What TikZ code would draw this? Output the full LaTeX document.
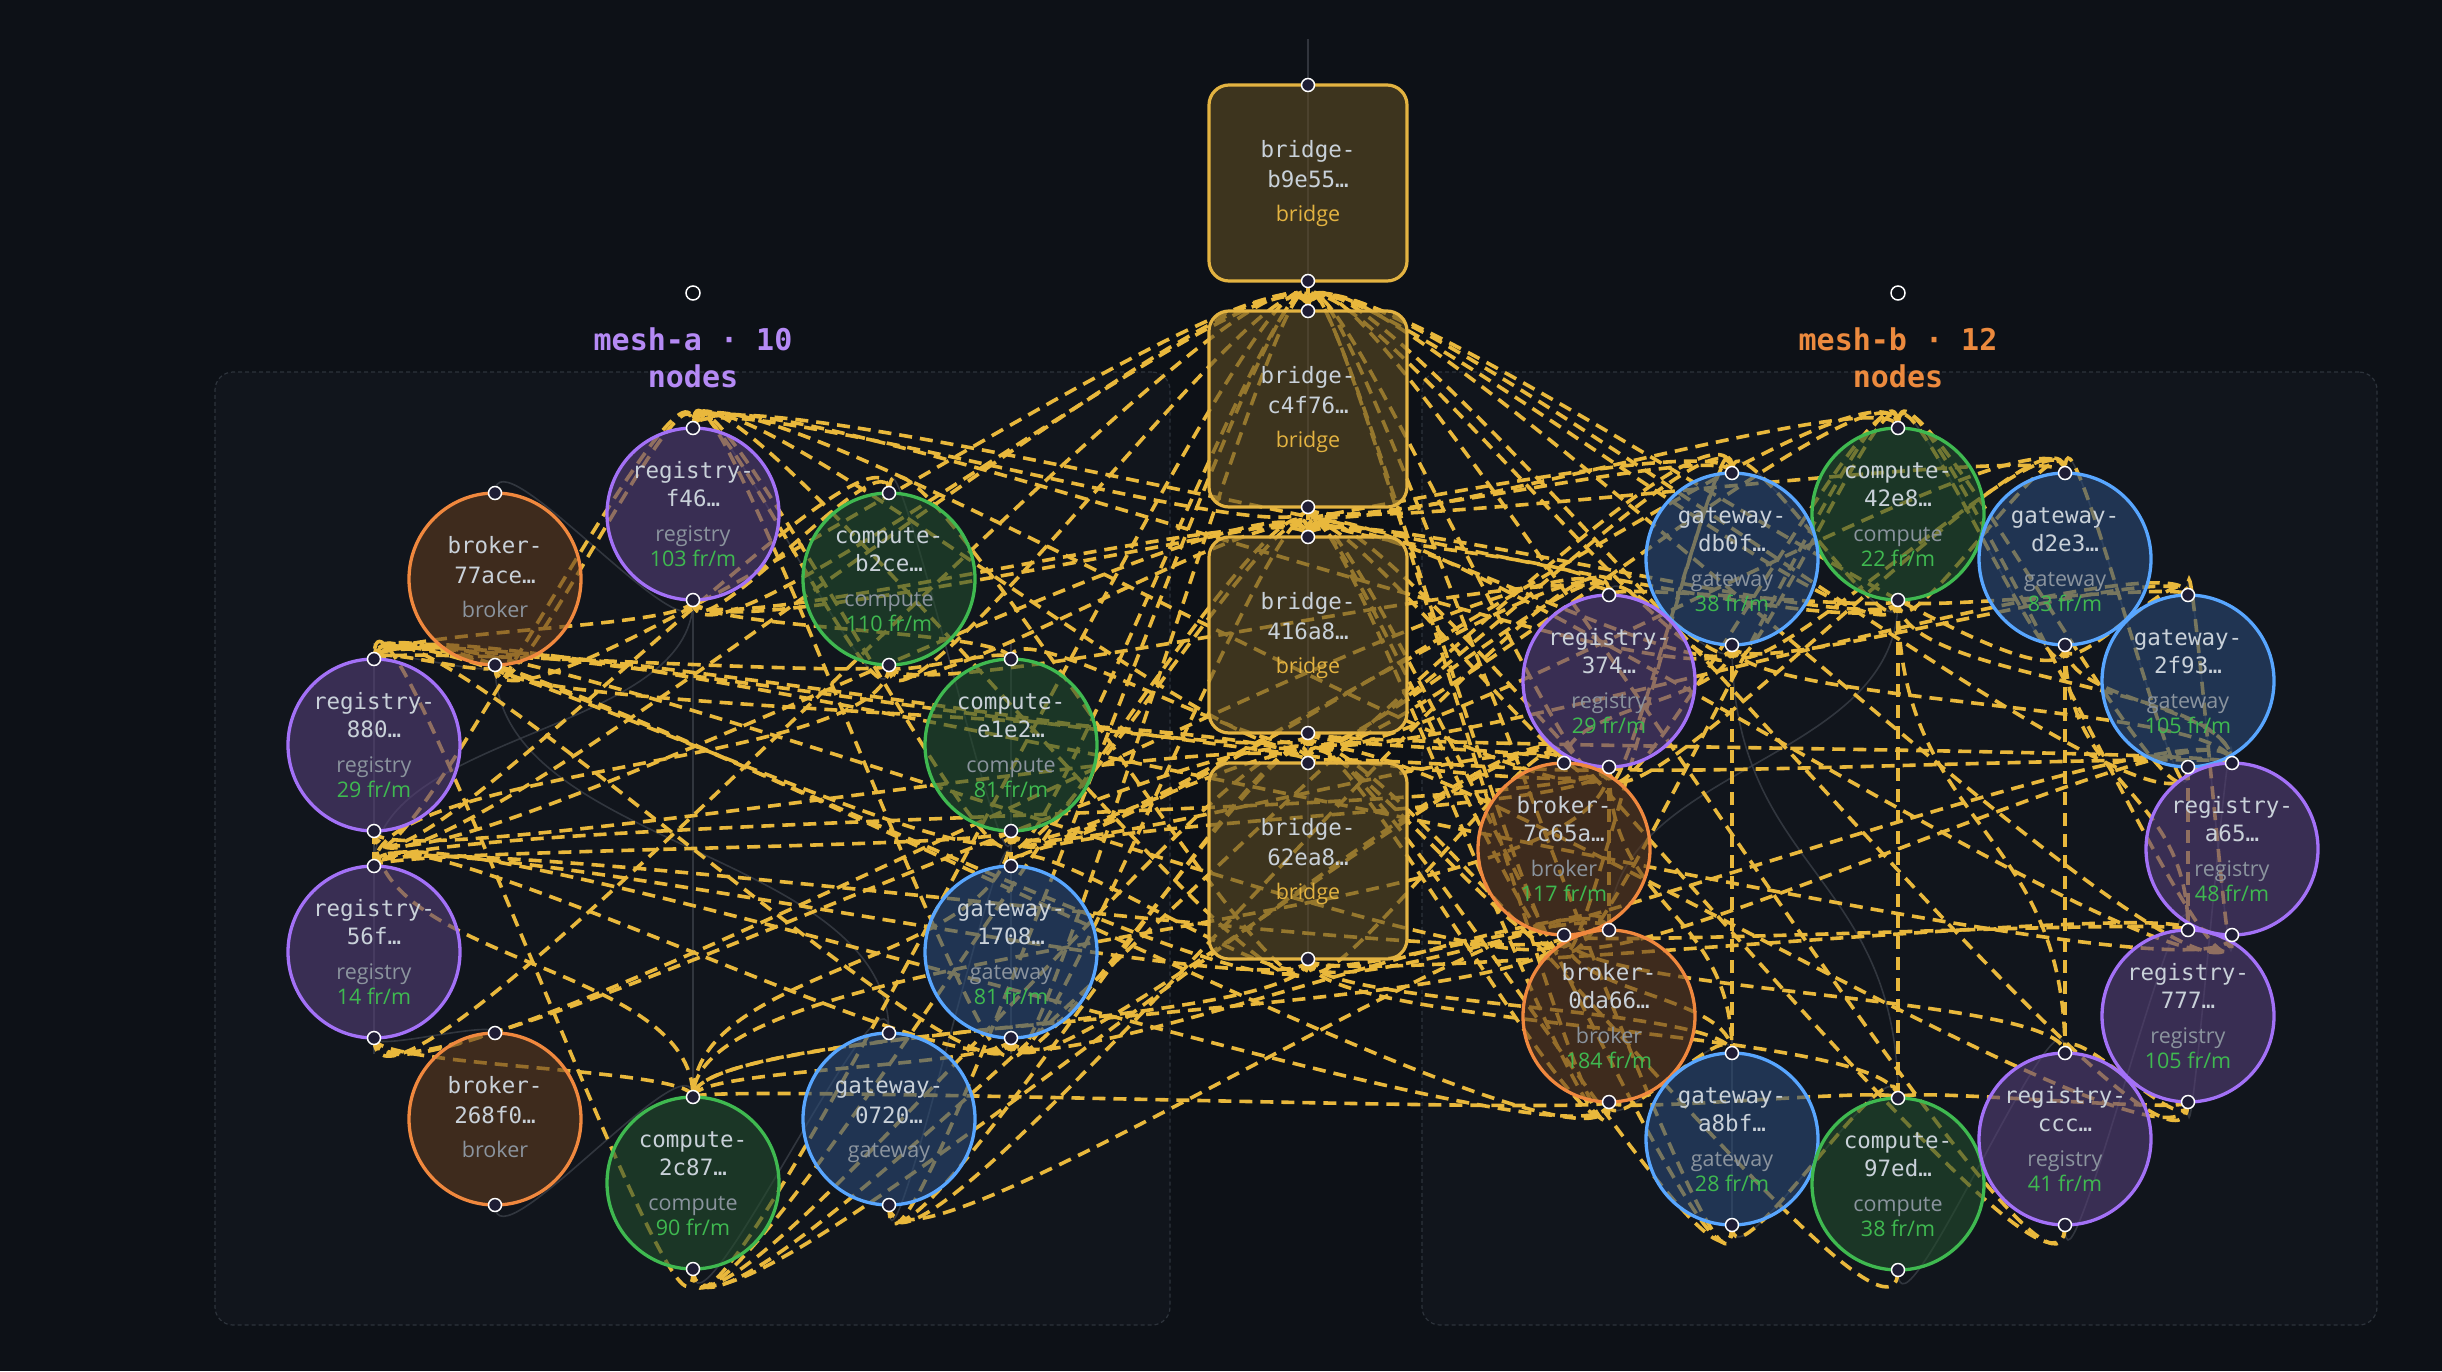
\documentclass[tikz,border=0pt]{standalone}
\usepackage{fontspec}
\setmainfont{Open Sans}
\newfontfamily\monof{DejaVu Sans Mono}
\usetikzlibrary{calc}
\definecolor{bgc}{HTML}{0D1117}
\definecolor{grpF}{HTML}{11151C}
\definecolor{grpB}{HTML}{2D333B}
\definecolor{edgeY}{HTML}{E9B83C}
\definecolor{faintC}{HTML}{3A3F47}
\definecolor{regB}{HTML}{A371F7}
\definecolor{regF}{HTML}{553F78}
\definecolor{broB}{HTML}{F0883E}
\definecolor{broF}{HTML}{5D3B1F}
\definecolor{comB}{HTML}{3FB950}
\definecolor{comF}{HTML}{234D2D}
\definecolor{gatB}{HTML}{58A6FF}
\definecolor{gatF}{HTML}{2B4A76}
\definecolor{briB}{HTML}{E3B341}
\definecolor{briF}{HTML}{5E4C24}
\definecolor{nameC}{HTML}{C9D1D9}
\definecolor{typeC}{HTML}{8B949E}
\definecolor{rateC}{HTML}{3FB950}
\definecolor{hdlF}{HTML}{1F1D35}
\definecolor{meshA}{HTML}{B58AF5}
\definecolor{meshB}{HTML}{EC8A3E}
\pgfdeclarelayer{bgl}
\pgfdeclarelayer{edgel}
\pgfsetlayers{bgl,edgel,main}
\newdimen\fea
\newdimen\feb
\newcommand\fe[3][flow]{%
  \pgfextracty{\fea}{\pgfpointanchor{#2}{south}}%
  \pgfextracty{\feb}{\pgfpointanchor{#3}{north}}%
  \pgfmathsetmacro\fed{\fea-\feb}%
  \pgfmathsetmacro\fec{\fed>=0 ? 0.5*\fed : 6.25*sqrt(abs(\fed))}%
  \draw[#1] (#2.south) .. controls ([yshift=-\fec*1pt]#2.south) and ([yshift=\fec*1pt]#3.north) .. (#3.north);%
}
\newcommand\cnr[8]{%
  \node[#2] (#1) at (#3,#4) {};
  \node[nm] (#1-l1) at (#3,#4-36) {#5};
  \node[nm] (#1-l2) at (#3,#4-8) {#6};
  \node[ty] (#1-ty) at (#3,#4+27) {#7};
  \node[rt] (#1-rt) at (#3,#4+52) {#8};
}
\newcommand\cnn[8]{%
  \node[#2] (#1) at (#3,#4) {};
  \node[nm] (#1-l1) at (#3,#4-26) {#5};
  \node[nm] (#1-l2) at (#3,#4+4) {#6};
  \node[#7] (#1-ty) at (#3,#4+38) {#8};
}
\begin{document}
\begin{tikzpicture}[x=1pt,y=-1pt,
  basecirc/.style={circle, minimum size=172pt, inner sep=0pt, outer sep=0pt, line width=3.3pt, fill opacity=0.6},
  regc/.style={basecirc, draw=regB, fill=regF},
  broc/.style={basecirc, draw=broB, fill=broF},
  comc/.style={basecirc, draw=comB, fill=comF},
  gatc/.style={basecirc, draw=gatB, fill=gatF},
  brib/.style={rectangle, rounded corners=20pt, minimum width=198pt, minimum height=196pt, inner sep=0pt, outer sep=0pt, line width=3.2pt, draw=briB, fill=briF, fill opacity=0.6},
  hdl/.style={circle, minimum size=13pt, inner sep=0pt, fill=hdlF, draw=white, line width=1.5pt},
  hdlg/.style={circle, minimum size=14pt, inner sep=0pt, fill=bgc, draw=white, line width=1.5pt},
  nm/.style={anchor=base, inner sep=0pt, text=nameC, font=\monof\fontsize{22.5}{27}\selectfont},
  ty/.style={anchor=base, inner sep=0pt, text=typeC, font=\fontsize{21.5}{25}\selectfont},
  bty/.style={anchor=base, inner sep=0pt, text=briB, font=\fontsize{21.5}{25}\selectfont},
  rt/.style={anchor=base, inner sep=0pt, text=rateC, font=\fontsize{21.5}{25}\selectfont},
  glbl/.style={anchor=base, inner sep=0pt, font=\monof\bfseries\fontsize{30}{37}\selectfont},
  grpbox/.style={rectangle, rounded corners=18pt, draw=grpB, line width=1.2pt, dash pattern=on 4pt off 3pt, fill=grpF, minimum width=955pt, minimum height=953pt, inner sep=0pt},
  flow/.style={draw=edgeY, line width=3.6pt, dash pattern=on 13pt off 8pt},
  faint/.style={draw=faintC, line width=1.6pt, opacity=0.8}
]
\useasboundingbox (0,0) rectangle (2442,1371);
\begin{pgfonlayer}{bgl}
  \fill[bgc] (0,0) rectangle (2442,1371);
  \node[grpbox] (meshAbox) at (692.5,848.5) {};
  \node[grpbox] (meshBbox) at (1899.5,848.5) {};
\end{pgfonlayer}

% group labels
\node[hdlg] (meshAh) at (693,293) {};
\node[hdlg] (meshBh) at (1898,293) {};
\node[glbl, text=meshA] (meshA1) at (693,350) {mesh-a · 10};
\node[glbl, text=meshA] (meshA2) at (693,387) {nodes};
\node[glbl, text=meshB] (meshB1) at (1898,350) {mesh-b · 12};
\node[glbl, text=meshB] (meshB2) at (1898,387) {nodes};

% bridges
\cnn{brone}{brib}{1308}{183}{bridge-}{b9e55…}{bty}{bridge}
\cnn{brtwo}{brib}{1308}{409}{bridge-}{c4f76…}{bty}{bridge}
\cnn{brthree}{brib}{1308}{635}{bridge-}{416a8…}{bty}{bridge}
\cnn{brfour}{brib}{1308}{861}{bridge-}{62ea8…}{bty}{bridge}

% mesh-a
\cnr{f46}{regc}{693}{514}{registry-}{f46…}{registry}{103 fr/m}
\cnn{a77}{broc}{495}{579}{broker-}{77ace…}{ty}{broker}
\cnr{b2ce}{comc}{889}{579}{compute-}{b2ce…}{compute}{110 fr/m}
\cnr{r880}{regc}{374}{745}{registry-}{880…}{registry}{29 fr/m}
\cnr{e1e2}{comc}{1011}{745}{compute-}{e1e2…}{compute}{81 fr/m}
\cnr{r56f}{regc}{374}{952}{registry-}{56f…}{registry}{14 fr/m}
\cnr{g1708}{gatc}{1011}{952}{gateway-}{1708…}{gateway}{81 fr/m}
\cnn{b268}{broc}{495}{1119}{broker-}{268f0…}{ty}{broker}
\cnn{g0720}{gatc}{889}{1119}{gateway-}{0720…}{ty}{gateway}
\cnr{c2c87}{comc}{693}{1183}{compute-}{2c87…}{compute}{90 fr/m}

% mesh-b
\cnr{c42e8}{comc}{1898}{514}{compute-}{42e8…}{compute}{22 fr/m}
\cnr{gdb0f}{gatc}{1732}{559}{gateway-}{db0f…}{gateway}{38 fr/m}
\cnr{gd2e3}{gatc}{2065}{559}{gateway-}{d2e3…}{gateway}{83 fr/m}
\cnr{r374}{regc}{1609}{681}{registry-}{374…}{registry}{29 fr/m}
\cnr{g2f93}{gatc}{2188}{681}{gateway-}{2f93…}{gateway}{105 fr/m}
\cnr{b7c65}{broc}{1564}{849}{broker-}{7c65a…}{broker}{117 fr/m}
\cnr{ra65}{regc}{2232}{849}{registry-}{a65…}{registry}{48 fr/m}
\cnr{b0da6}{broc}{1609}{1016}{broker-}{0da66…}{broker}{184 fr/m}
\cnr{r777}{regc}{2188}{1016}{registry-}{777…}{registry}{105 fr/m}
\cnr{ga8bf}{gatc}{1732}{1139}{gateway-}{a8bf…}{gateway}{28 fr/m}
\cnr{c97ed}{comc}{1898}{1184}{compute-}{97ed…}{compute}{38 fr/m}
\cnr{rccc}{regc}{2065}{1139}{registry-}{ccc…}{registry}{41 fr/m}

\coordinate (vtop) at (1308,39);

\begin{pgfonlayer}{edgel}
  \draw[faint] (vtop) -- (brfour.south);
  \foreach \s/\t in {a77/r880, r880/r56f, r56f/b268, b268/c2c87, c2c87/g0720, g0720/g1708, g1708/e1e2, e1e2/b2ce, b2ce/f46, f46/a77, f46/r56f, a77/g0720, r56f/r880, f46/c2c87,
    c42e8/gdb0f, gdb0f/r374, r374/b7c65, b7c65/b0da6, b0da6/ga8bf, ga8bf/c97ed, c97ed/rccc, rccc/r777, r777/ra65, ra65/g2f93, g2f93/gd2e3, gd2e3/c42e8, c42e8/b0da6, gdb0f/c97ed, ga8bf/ga8bf}
    {\fe[faint]{\s}{\t}}
  \foreach \s/\t in {brone/brtwo, brtwo/brthree, brthree/brfour,
    f46/brtwo, a77/brtwo, b2ce/brtwo, r880/brtwo, e1e2/brtwo, r56f/brtwo, g1708/brtwo, c2c87/brtwo, g0720/brtwo, gdb0f/brtwo, c42e8/brtwo, gd2e3/brtwo, r374/brtwo, g2f93/brtwo, b7c65/brtwo, ra65/brtwo, b0da6/brtwo, r777/brtwo, rccc/brtwo, ga8bf/brtwo,
    f46/brthree, b2ce/brthree, r880/brthree, e1e2/brthree, g1708/brthree, c42e8/brthree, gdb0f/brthree, r374/brthree, b7c65/brthree, ra65/brthree, b0da6/brthree, c2c87/brthree, rccc/brthree, ga8bf/brthree,
    a77/brfour, r880/brfour, r56f/brfour, e1e2/brfour, g1708/brfour, c2c87/brfour, g0720/brfour, r374/brfour, b7c65/brfour, b0da6/brfour, r777/brfour, ga8bf/brfour, c97ed/brfour,
    b2ce/f46, e1e2/f46, r880/f46, brtwo/f46, brthree/f46, brfour/f46, g1708/f46, gdb0f/f46, r374/f46, c42e8/f46, a77/f46,
    a77/r880, f46/r880, b2ce/r880, e1e2/r880, g1708/r880, brthree/r880, brfour/r880, b7c65/r880, b0da6/r880, ra65/r880, r374/r880, c2c87/r880,
    r880/r56f, e1e2/r56f, g1708/r56f, brfour/r56f, b0da6/r56f, r374/r56f, b7c65/r56f, b2ce/r56f,
    r56f/c2c87, e1e2/c2c87, g1708/c2c87, brfour/c2c87, b7c65/c2c87, b0da6/c2c87, r374/c2c87, r880/c2c87,
    r880/b2ce, brfour/b2ce, f46/b2ce,
    b2ce/e1e2, f46/e1e2, brthree/e1e2,
    e1e2/g1708, brfour/g1708, r374/g1708,
    brtwo/c42e8, brthree/c42e8, b7c65/c42e8, r374/c42e8, gdb0f/c42e8, gd2e3/c42e8, g2f93/c42e8, ra65/c42e8, e1e2/c42e8,
    brtwo/gdb0f, brthree/gdb0f, r374/gdb0f, b7c65/gdb0f, f46/gdb0f, c42e8/gdb0f,
    brtwo/gd2e3, c42e8/gd2e3, gdb0f/gd2e3, r374/gd2e3, brthree/gd2e3, g2f93/gd2e3,
    brthree/r374, brtwo/r374, b2ce/r374, e1e2/r374, gdb0f/r374, c42e8/r374,
    gd2e3/g2f93, c42e8/g2f93, brthree/g2f93, ra65/g2f93, gdb0f/g2f93,
    r374/b7c65, brfour/b7c65, g1708/b7c65, e1e2/b7c65, gdb0f/b7c65, brthree/b7c65, c2c87/b7c65,
    g2f93/ra65, r374/ra65, b7c65/ra65, brthree/ra65, gdb0f/ra65, c42e8/ra65, gd2e3/ra65, brfour/ra65,
    b7c65/b0da6, brfour/b0da6, g1708/b0da6, r374/b0da6, g0720/b0da6,
    ra65/r777, g2f93/r777, b7c65/r777, brfour/r777, gd2e3/r777,
    b0da6/ga8bf, b7c65/ga8bf, brfour/ga8bf, r374/ga8bf, gdb0f/ga8bf,
    c42e8/c97ed, b0da6/c97ed, ga8bf/c97ed, brfour/c97ed, r777/c97ed,
    r777/rccc, gd2e3/rccc, c42e8/rccc, b7c65/rccc,
    c2c87/gdb0f, r56f/r374, g0720/r374}
    {\fe{\s}{\t}}
\end{pgfonlayer}

% handles
\foreach \n in {brone,brtwo,brthree,brfour,f46,a77,b2ce,r880,e1e2,r56f,g1708,b268,g0720,c2c87,c42e8,gdb0f,gd2e3,r374,g2f93,b7c65,ra65,b0da6,r777,ga8bf,c97ed,rccc}{
  \node[hdl] (\n-ht) at (\n.north) {};
  \node[hdl] (\n-hb) at (\n.south) {};
}
\end{tikzpicture}
\end{document}
